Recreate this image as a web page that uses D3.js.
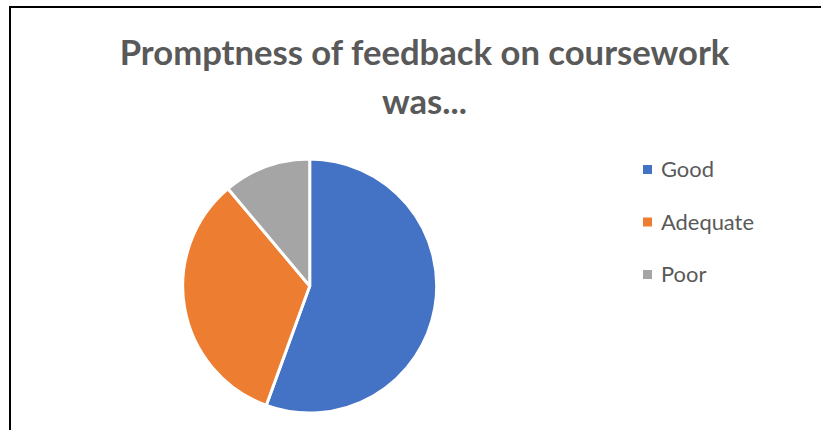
<!DOCTYPE html>
<html><head><meta charset="utf-8">
<script src="https://cdn.jsdelivr.net/npm/d3@7"></script>
<style>html,body{margin:0;padding:0;background:#fff;overflow:hidden}</style>
</head><body>
<svg id="chart" width="821" height="430"></svg>
<script>
const categories = ["Good", "Adequate", "Poor"];
const values = [5, 3, 1];
const colors = ["#4472C4", "#ED7D31", "#A5A5A5"];
const titleLines = ["Promptness of feedback on coursework", "was..."];

const svg = d3.select("#chart");
svg.append("rect").attr("x", 10).attr("y", 7).attr("width", 830).attr("height", 440)
  .attr("fill", "#fff").attr("stroke", "#000").attr("stroke-width", 2);

const title = svg.append("g").attr("font-family", "Lato, 'Open Sans', sans-serif")
  .attr("font-weight", "bold").attr("fill", "#595959").attr("text-anchor", "middle");
const t1 = title.append("text").attr("x", 424.5).attr("y", 65).attr("font-size", 32).text(titleLines[0]);
const w = t1.node().getComputedTextLength();
const fs = 32 * 610 / w;
t1.attr("font-size", fs);
title.append("text").attr("x", 424.5).attr("y", 114).attr("font-size", fs).text(titleLines[1]);

const cx = 309.7, cy = 286, r = 127;
const pie = d3.pie().sort(null).value(d => d)(values);
const arc = d3.arc().innerRadius(0).outerRadius(r);
svg.append("g").attr("transform", `translate(${cx},${cy})`)
  .selectAll("path").data(pie).join("path")
  .attr("d", arc).attr("fill", (d, i) => colors[i])
  .attr("stroke", "#fff").attr("stroke-width", 3).attr("stroke-linejoin", "round");

const legendY = d3.scalePoint().domain(categories).range([169.5, 274.5]);
const lg = svg.append("g").attr("font-family", "Lato, 'Open Sans', sans-serif").attr("fill", "#595959");
lg.selectAll("rect").data(categories).join("rect")
  .attr("x", 643).attr("y", d => legendY(d) - 4.5).attr("width", 9).attr("height", 9)
  .attr("fill", (d, i) => colors[i]);
const lt = lg.selectAll("text").data(categories).join("text")
  .attr("x", 661).attr("y", d => legendY(d)).attr("dy", "0.36em")
  .attr("font-size", 18).text(d => d);
const aw = lt.filter(d => d === "Adequate").node().getComputedTextLength();
lt.attr("font-size", 18 * 93 / aw);
</script>
</body></html>
